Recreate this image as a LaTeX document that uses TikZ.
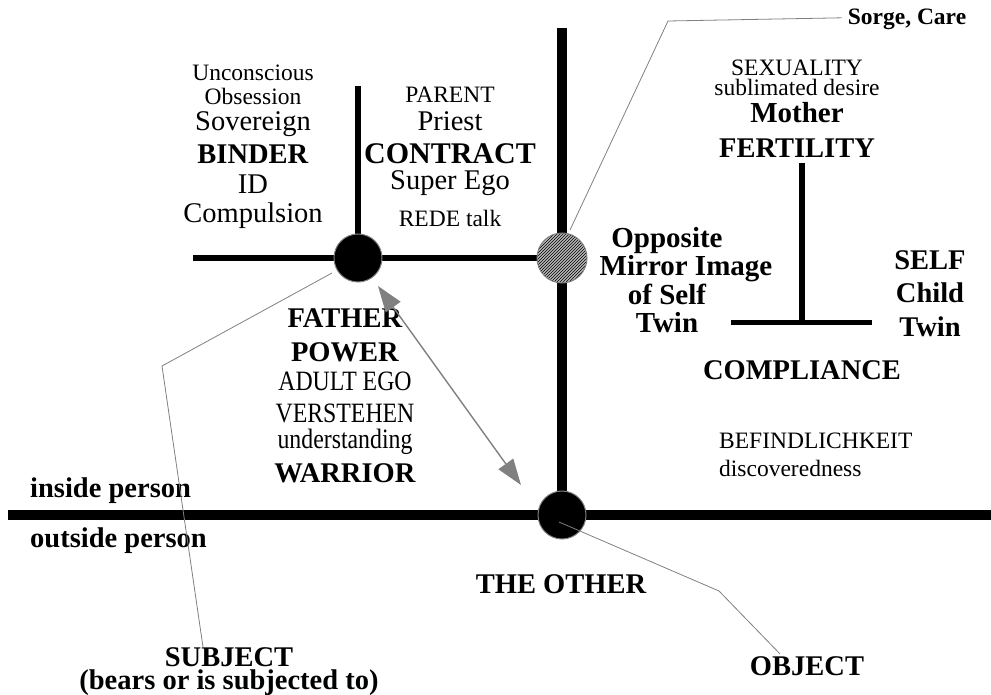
\documentclass[tikz,border=0pt]{standalone}
\usepackage{fontspec}
\setmainfont{Liberation Serif}
\newfontfamily\narrowrm{Liberation Serif}[FakeStretch=0.85]
\usetikzlibrary{arrows.meta,positioning,calc,patterns,backgrounds}
\newcommand{\smtxt}{\fontsize{23.5}{25}\selectfont}
\newcommand{\lgtxt}{\fontsize{28.5}{30}\selectfont}
\newcommand{\nrtxt}{\narrowrm\fontsize{28}{30}\selectfont}

\begin{document}
\begin{tikzpicture}[x=1pt,y=-1pt,
  beam/.style={line width=#1},
  hub/.style={circle,draw=gray,line width=1pt,fill=black,minimum size=48pt,inner sep=0pt},
  hatchhub/.style={circle,draw=gray,line width=1pt,minimum size=50pt,inner sep=0pt,
    preaction={fill=gray!55},pattern=north east lines,pattern color=black},
  lbl/.style={inner sep=0pt,align=center,font=\lgtxt},
  lead/.style={draw=gray,line width=0.8pt},
  twoway/.style={{Triangle[length=26pt,width=18pt]}-{Triangle[length=26pt,width=18pt]},draw=gray,line width=1.4pt}]
\useasboundingbox (0,0) rectangle (991,695);
% junctions
\node[hub] (fa) at (358,258) {};
\node[hatchhub] (mirror) at (562,258) {};
\node[hub] (other) at (562,515) {};
\coordinate (edgeL) at (8,514.5);
\coordinate (edgeR) at (991,514.5);
\coordinate (spineT) at (562,28);
\coordinate (armL) at (193,258);
\coordinate (armT) at (358,86);
\coordinate (tl) at (731,322.5);
\coordinate (tr) at (872,322.5);
\coordinate (tt) at (802,163);
\begin{scope}[on background layer]
\draw[beam=10pt] (edgeL) -- (edgeR);
\draw[beam=10pt] (spineT) -- (other.center);
\draw[beam=6.5pt] (armL) -- (mirror.center);
\draw[beam=6pt] (armT) -- (fa.center);
\end{scope}
\draw[beam=5.5pt] (tl) -- (tr);
\draw[beam=5.5pt] (tt) -- (tt |- tl);
% texts
\node[lbl,anchor=north] (binder) at (253,65) {{\smtxt Unconscious}\\[-6pt]{\smtxt Obsession}\\[-4pt]Sovereign\\[3pt]\textbf{BINDER}\\ID\\[-1pt]Compulsion};
\node[lbl,anchor=north] (contract) at (450,87) {{\smtxt PARENT}\\[-2pt]Priest\\[3pt]{\fontsize{30}{30}\selectfont\textbf{CONTRACT}}\\[-4pt]Super Ego\\[7pt]{\smtxt REDE talk}};
\node[lbl,anchor=base,font=\smtxt\bfseries] (sorge) at (907,25) {Sorge, Care};
\node[lbl,anchor=north] (mother) at (797,60) {{\smtxt SEXUALITY}\\[-10pt]{\smtxt sublimated desire}\\[-3pt]{\fontsize{29}{30}\selectfont\textbf{Mother}}\\[5pt]\textbf{FERTILITY}};
\node[lbl,anchor=north,font=\fontsize{29}{28.5}\selectfont\bfseries] (mirrortxt) at (667,227) {Opposite\\\hskip38pt Mirror Image\\of Self\\Twin};
\node[lbl,anchor=north,font=\fontsize{28.5}{33.5}\selectfont\bfseries] (self) at (930,250) {SELF\\Child\\Twin};
\node[lbl,anchor=base,font=\lgtxt\bfseries] (compl) at (802,379) {COMPLIANCE};
\node[lbl,anchor=north west,align=left,font=\smtxt] (befind) at (719,433) {BEFINDLICHKEIT\\[3pt]discoveredness};
\node[lbl,anchor=north] (father) at (345,308) {\textbf{FATHER}\\[4pt]\textbf{POWER}\\[-1pt]{\nrtxt ADULT EGO}\\[2pt]{\nrtxt VERSTEHEN}\\[-4pt]{\nrtxt understanding}\\[4pt]\textbf{WARRIOR}};
\node[lbl,anchor=base west,font=\lgtxt\bfseries] (inside) at (30,497) {inside person};
\node[lbl,anchor=base west,font=\lgtxt\bfseries] (outside) at (30,547) {outside person};
\node[lbl,anchor=base,font=\lgtxt\bfseries] (othertxt) at (561,593) {THE OTHER};
\node[lbl,anchor=base,font=\lgtxt\bfseries] (obj) at (807,675) {OBJECT};
\node[lbl,anchor=north,font=\lgtxt\bfseries] (subj) at (229,647) {SUBJECT\\[-7pt](bears or is subjected to)};
% leaders and arrow
\draw[lead] ($(fa)+(-26,15)$) -- (162,366) -- ($(subj.north)+(-26,0)$);
\draw[lead] ($(other)+(-3,7)$) -- (719,591) -- ($(obj.north)+(-27,-2)$);
\draw[lead] ($(mirror)+(8,-28)$) -- (668,21) -- ($(sorge.west)+(-6,-2)$);
\draw[twoway] ($(fa)+(20,28)$) -- ($(other)+(-41,-30)$);
\end{tikzpicture}
\end{document}
